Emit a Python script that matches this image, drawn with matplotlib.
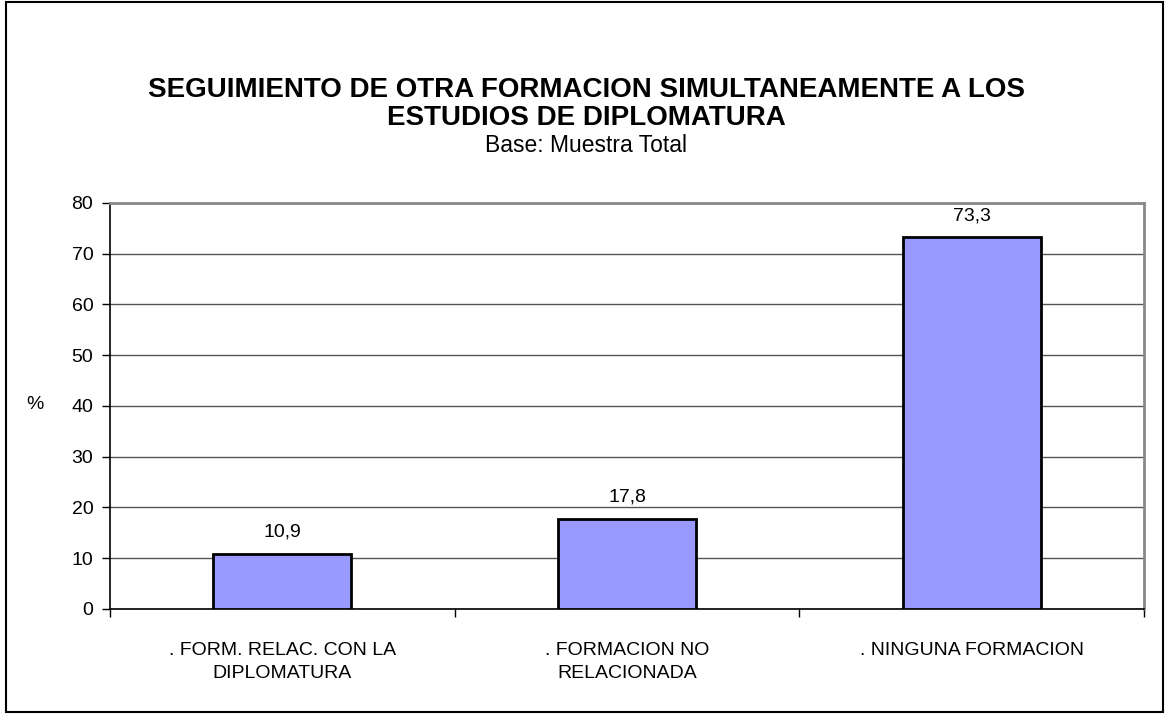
import matplotlib.pyplot as plt
from matplotlib.patches import Rectangle
from matplotlib.ticker import FixedLocator

plt.rcParams['font.family'] = ['Liberation Sans', 'DejaVu Sans']

categories = [". FORM. RELAC. CON LA\nDIPLOMATURA", ". FORMACION NO\nRELACIONADA", ". NINGUNA FORMACION"]
values = [10.9, 17.8, 73.3]
value_labels = ["10,9", "17,8", "73,3"]
yticks = [0, 10, 20, 30, 40, 50, 60, 70, 80]

fig = plt.figure(figsize=(11.66, 7.15), dpi=100)
fig.patches.append(Rectangle((0.005, 0.004), 0.992, 0.993, transform=fig.transFigure,
                             fill=False, edgecolor='black', linewidth=1.5))

ax = fig.add_axes([0.0943, 0.1483, 0.8868, 0.5678])
x = range(len(values))
ax.bar(x, values, width=0.40, color='#9999FF', edgecolor='black', linewidth=2, zorder=3)
for xi, v, lab in zip(x, values, value_labels):
    ax.text(xi, v + 2.5, lab, ha='center', va='bottom', fontsize=14)

ax.set_xlim(-0.5, 2.5)
ax.set_ylim(0, 80)
ax.set_yticks(yticks)
ax.tick_params(axis='y', labelsize=14, direction='out', length=6, width=1, pad=6)
ax.set_xticks(list(x))
ax.set_xticklabels(categories, fontsize=14, linespacing=1.45)
ax.tick_params(axis='x', length=0, pad=24)
ax.xaxis.set_minor_locator(FixedLocator([-0.5, 0.5, 1.5, 2.5]))
ax.tick_params(axis='x', which='minor', direction='out', length=6, width=1)
ax.grid(axis='y', color='#555555', linewidth=1, zorder=0)

ax.spines['left'].set_color('black')
ax.spines['bottom'].set_color('black')
ax.spines['left'].set_linewidth(1.2)
ax.spines['bottom'].set_linewidth(1.2)
ax.spines['top'].set_color('#888888')
ax.spines['right'].set_color('#888888')
ax.spines['top'].set_linewidth(2)
ax.spines['right'].set_linewidth(2)

fig.text(0.030, 0.434, '%', fontsize=14, ha='center', va='center')

fig.text(0.503, 0.874, 'SEGUIMIENTO DE OTRA FORMACION SIMULTANEAMENTE A LOS',
         fontsize=20, fontweight='bold', ha='center', va='center')
fig.text(0.503, 0.835, 'ESTUDIOS DE DIPLOMATURA',
         fontsize=20, fontweight='bold', ha='center', va='center')
fig.text(0.503, 0.796, 'Base: Muestra Total', fontsize=16.5, ha='center', va='center')

fig.savefig('out.png', dpi=100)
